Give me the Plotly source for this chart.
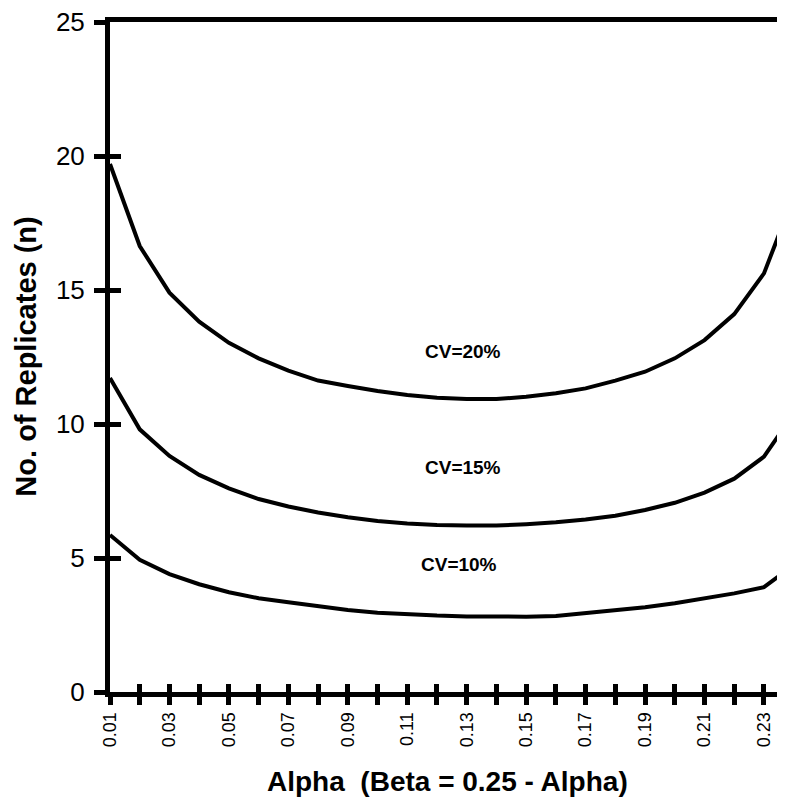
import plotly.graph_objects as go

alpha = [0.01, 0.02, 0.03, 0.04, 0.05, 0.06, 0.07, 0.08, 0.09, 0.10, 0.11, 0.12,
         0.13, 0.14, 0.15, 0.16, 0.17, 0.18, 0.19, 0.20, 0.21, 0.22, 0.23, 0.24]

cv20 = [19.70, 16.64, 14.90, 13.82, 13.03, 12.45, 11.99, 11.62, 11.42, 11.23, 11.08, 10.98,
        10.93, 10.93, 11.02, 11.15, 11.33, 11.62, 11.95, 12.45, 13.13, 14.10, 15.62, 18.50]
cv15 = [11.72, 9.80, 8.81, 8.10, 7.60, 7.20, 6.92, 6.70, 6.52, 6.38, 6.29, 6.23,
        6.21, 6.21, 6.26, 6.33, 6.44, 6.58, 6.79, 7.06, 7.44, 7.96, 8.78, 10.40]
cv10 = [5.86, 4.93, 4.40, 4.02, 3.72, 3.50, 3.35, 3.21, 3.06, 2.96, 2.90, 2.85,
        2.82, 2.81, 2.81, 2.84, 2.94, 3.03, 3.16, 3.31, 3.50, 3.68, 3.91, 4.74]

series_names = ["CV=20%", "CV=15%", "CV=10%"]

x_tickvals = alpha[:-1]
x_ticktext = ["0.01", "", "0.03", "", "0.05", "", "0.07", "", "0.09", "", "0.11", "",
              "0.13", "", "0.15", "", "0.17", "", "0.19", "", "0.21", "", "0.23"]
y_tickvals = [0, 5, 10, 15, 20, 25]

FONT = "Liberation Sans, Arial, Helvetica, sans-serif"
XR = [0.01, 0.23707]
YR = [0, 25]

fig = go.Figure()
for name, ys in zip(series_names, [cv20, cv15, cv10]):
    fig.add_trace(go.Scatter(x=alpha, y=ys, mode="lines", name=name,
                             line=dict(color="black", width=4),
                             showlegend=False))
# invisible helper trace so the overlay axes (inner half of crossing ticks) are drawn
fig.add_trace(go.Scatter(x=[], y=[], xaxis="x2", yaxis="y2", showlegend=False,
                         hoverinfo="skip"))

fig.update_layout(
    width=777, height=789,
    margin=dict(l=102, r=0, t=14, b=105, autoexpand=False),
    paper_bgcolor="white", plot_bgcolor="white",
    font=dict(family=FONT, color="black"),
    xaxis=dict(range=XR, showgrid=False, zeroline=False,
               showline=True, linecolor="black", linewidth=5, mirror=True,
               tickmode="array", tickvals=x_tickvals, ticktext=x_ticktext,
               ticks="outside", ticklen=8, tickwidth=4.5, tickcolor="black",
               ticklabeloverflow="allow",
               tickangle=-90, tickfont=dict(size=18, family=FONT)),
    yaxis=dict(range=YR, showgrid=False, zeroline=False,
               showline=True, linecolor="black", linewidth=5,
               tickmode="array", tickvals=y_tickvals,
               ticks="outside", ticklen=11, tickwidth=4.5, tickcolor="black",
               ticklabelstandoff=4, ticklabeloverflow="allow",
               tickfont=dict(size=26, family=FONT)),
    xaxis2=dict(range=XR, overlaying="x", anchor="y2", side="bottom",
                showgrid=False, zeroline=False, showline=False,
                tickmode="array", tickvals=x_tickvals, showticklabels=False,
                ticks="inside", ticklen=8, tickwidth=4.5, tickcolor="black"),
    yaxis2=dict(range=YR, overlaying="y", anchor="x2", side="left",
                showgrid=False, zeroline=False, showline=False,
                tickmode="array", tickvals=y_tickvals, showticklabels=False,
                ticks="inside", ticklen=11, tickwidth=4.5, tickcolor="black"),
)

# axis titles
fig.add_annotation(text="Alpha\u00a0 (Beta = 0.25 - Alpha)", xref="paper", yref="paper",
                   x=0.5, y=-0.134, xanchor="center", yanchor="middle", showarrow=False,
                   font=dict(size=28, family=FONT, color="black", weight="bold"))
fig.add_annotation(text="No. of Replicates (n)", xref="paper", yref="paper",
                   x=-0.125, y=0.5, xanchor="center", yanchor="middle", showarrow=False,
                   textangle=-90,
                   font=dict(size=29, family=FONT, color="black", weight="bold"))

# curve labels
for name, lx, ly in zip(series_names, [0.1286, 0.1286, 0.1274], [12.70, 8.38, 4.77]):
    fig.add_annotation(text=name, x=lx, y=ly, xref="x", yref="y", showarrow=False,
                       xanchor="center", yanchor="middle",
                       font=dict(size=19, family=FONT, color="black", weight="bold"))

fig.write_html("out.html")
